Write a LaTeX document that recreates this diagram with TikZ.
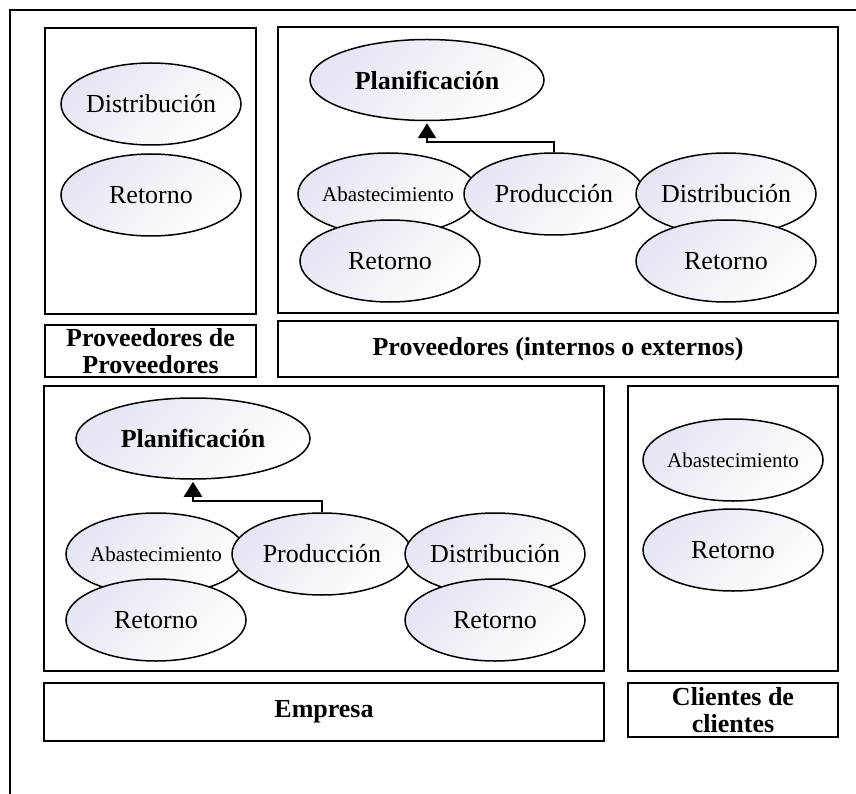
\documentclass[tikz,border=0pt]{standalone}
\usepackage{fontspec}
\setmainfont{Liberation Serif}
\usetikzlibrary{shapes.geometric,arrows.meta,calc}
\definecolor{ellshade}{RGB}{228,230,241}
\begin{document}
\begin{tikzpicture}[x=1pt,y=-1pt,
  panel/.style={draw=black,line width=2.1pt,rectangle,inner sep=0pt,fill=white},
  proc/.style={ellipse,draw=black,line width=1.5pt,inner sep=0pt,
    minimum width=180pt,minimum height=82pt,
    top color=ellshade,bottom color=white,shading angle=45,
    font=\fontsize{26}{26}\selectfont},
  plan/.style={proc,minimum width=234pt,minimum height=81pt,
    font=\fontsize{26}{26}\selectfont\bfseries},
  lbl/.style={align=center,inner sep=0pt,
    font=\fontsize{26}{27}\selectfont\bfseries},
  flow/.style={draw=black,line width=2.4pt,-{Triangle[width=18pt,length=15pt]}}]
\useasboundingbox (0,0) rectangle (856,794);
% outer frame, running past the right and bottom edges
\draw[line width=2.6pt] (10,10) rectangle (880,820);

% panels and their captions
\node[panel,minimum width=211pt,minimum height=286pt] (b1) at (150.5,171) {};
\node[panel,minimum width=211pt,minimum height=52pt]  (l1) at (150.5,351) {};
\node[panel,minimum width=560pt,minimum height=286pt] (b2) at (558,170) {};
\node[panel,minimum width=560pt,minimum height=56pt]  (l2) at (558,349) {};
\node[panel,minimum width=560pt,minimum height=285pt] (b3) at (324,528.5) {};
\node[panel,minimum width=560pt,minimum height=58pt]  (l3) at (324,712) {};
\node[panel,minimum width=210pt,minimum height=285pt] (b4) at (733,528.5) {};
\node[panel,minimum width=210pt,minimum height=54pt]  (l4) at (733,710) {};

\node[lbl] (l1t) at (l1) {Proveedores de\\Proveedores};
\node[lbl] (l2t) at (l2) {Proveedores (internos o externos)};
\node[lbl] (l3t) at (l3) {Empresa};
\node[lbl] (l4t) at (l4) {Clientes de\\clientes};

% suppliers of suppliers
\node[proc] (p1dist) at (151,104) {\makebox[0pt]{Distribución}};
\node[proc] (p1ret)  at (151,195) {\makebox[0pt]{Retorno}};

% suppliers
\node[plan] (p2plan)  at (427,80)  {\makebox[0pt]{Planificación}};
\node[proc] (p2abas)  at (388,194) {\makebox[0pt]{\fontsize{21}{21}\selectfont Abastecimiento}};
\node[proc] (p2retA)  at (390,261) {\makebox[0pt]{Retorno}};
\node[proc] (p2prod)  at (554,194) {\makebox[0pt]{Producción}};
\node[proc] (p2dist)  at (726,194) {\makebox[0pt]{Distribución}};
\node[proc] (p2retB)  at (726,261) {\makebox[0pt]{Retorno}};
\draw[flow,shorten >=2pt] (p2prod.north) |- ($(p2plan.south)+(0,21)$) -- (p2plan.south);

% company
\node[plan] (p3plan)  at (193,438.5) {\makebox[0pt]{Planificación}};
\node[proc] (p3abas)  at (156,554) {\makebox[0pt]{\fontsize{21}{21}\selectfont Abastecimiento}};
\node[proc] (p3retA)  at (156,620) {\makebox[0pt]{Retorno}};
\node[proc] (p3prod)  at (322,554) {\makebox[0pt]{Producción}};
\node[proc] (p3dist)  at (495,554) {\makebox[0pt]{Distribución}};
\node[proc] (p3retB)  at (495,620) {\makebox[0pt]{Retorno}};
\draw[flow,shorten >=2pt] (p3prod.north) |- ($(p3plan.south)+(0,21)$) -- (p3plan.south);

% customers of customers
\node[proc] (p4abas) at (733,460) {\makebox[0pt]{\fontsize{21}{21}\selectfont Abastecimiento}};
\node[proc] (p4ret)  at (733,550) {\makebox[0pt]{Retorno}};
\end{tikzpicture}
\end{document}
